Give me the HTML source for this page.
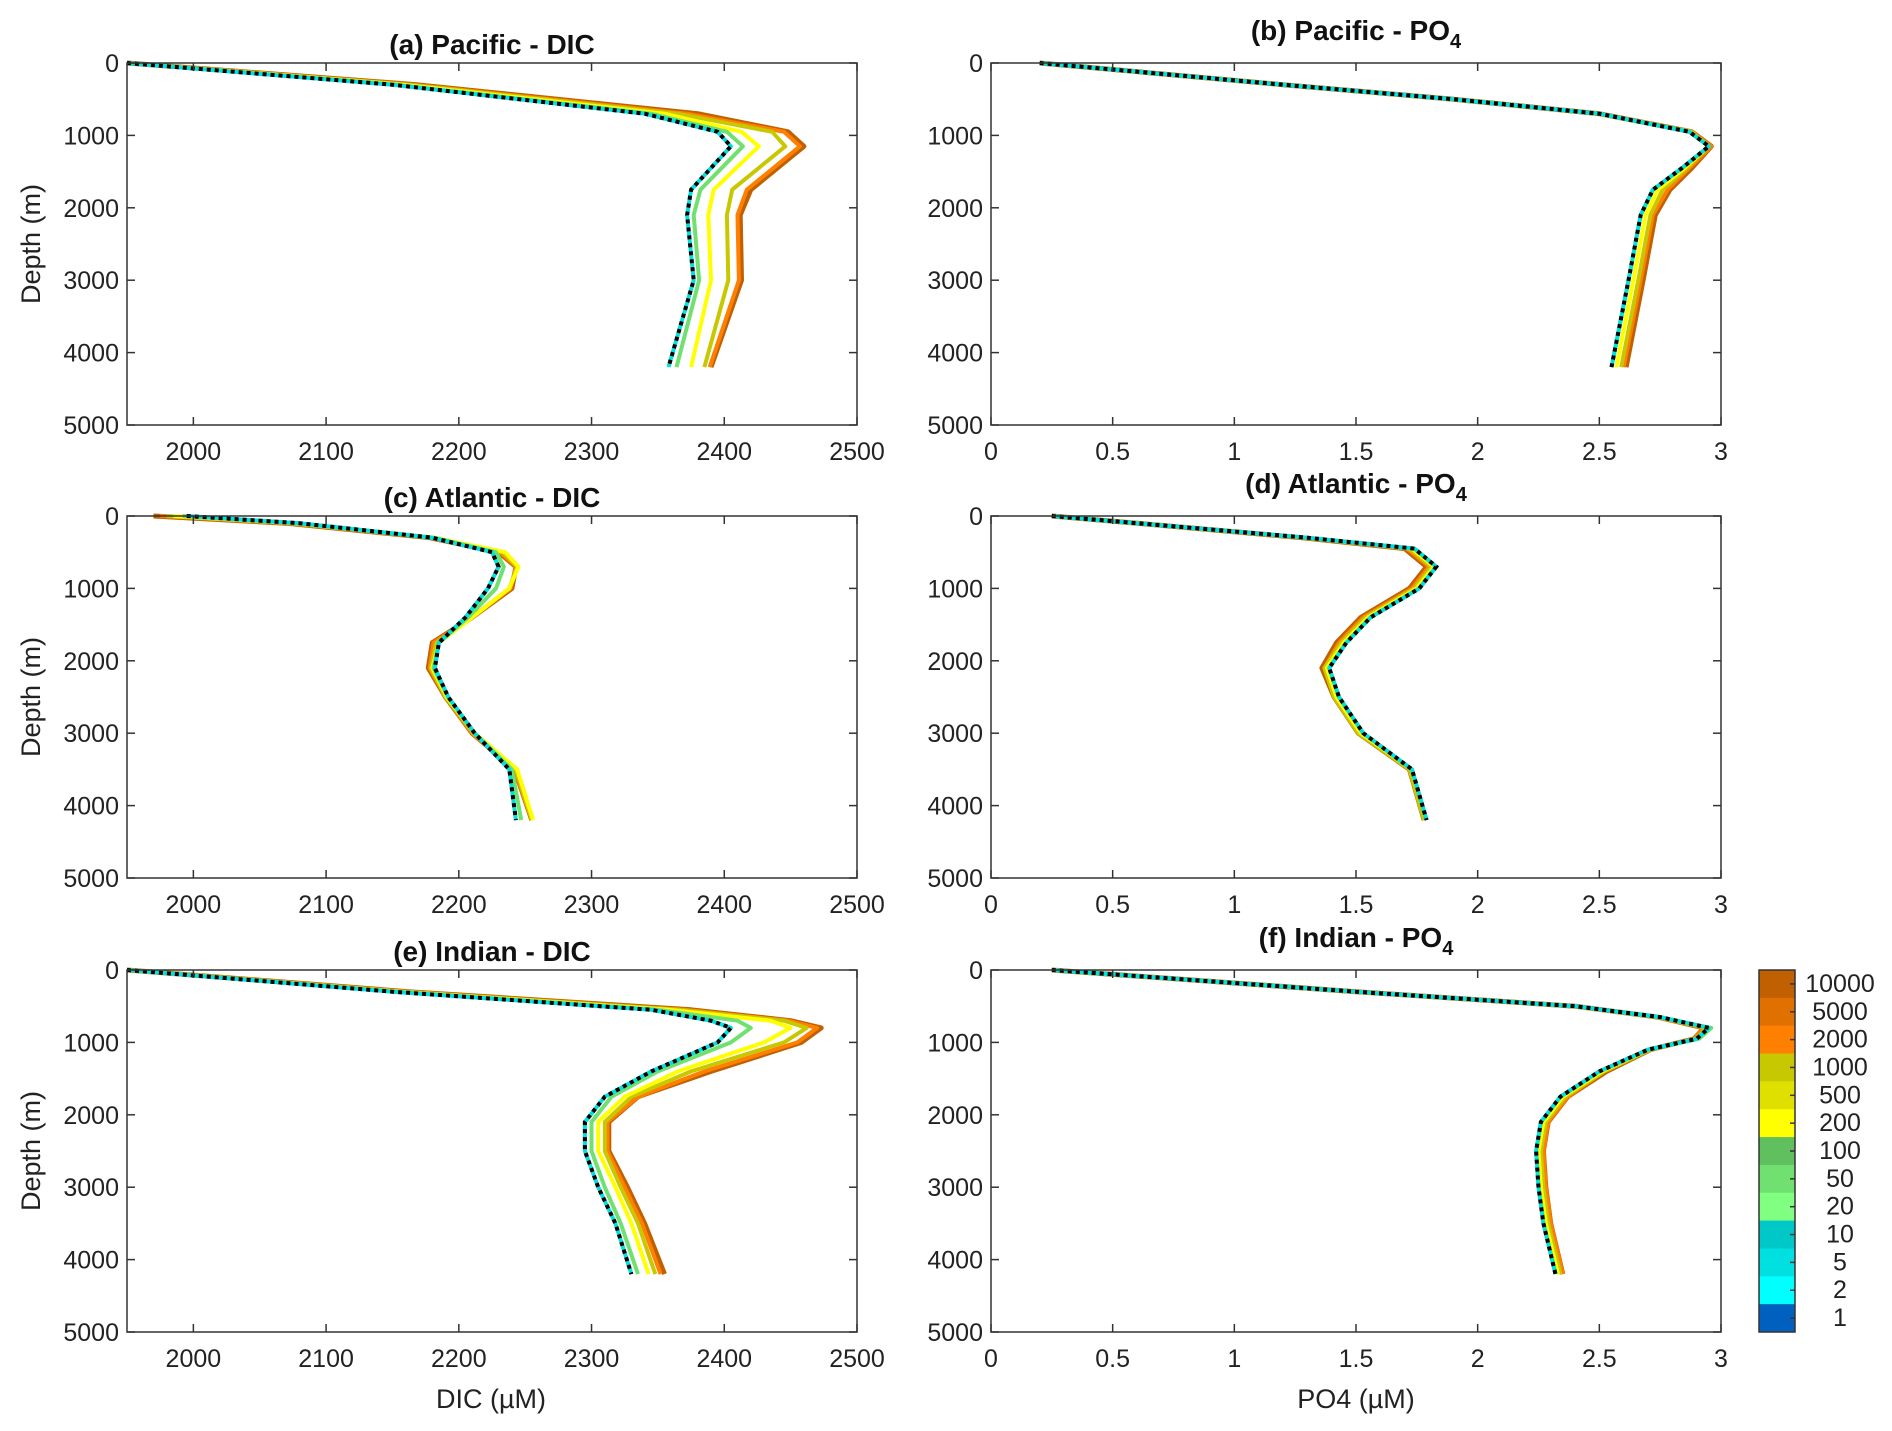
<!DOCTYPE html>
<html><head><meta charset="utf-8"><style>
html,body{margin:0;padding:0;background:#fff;}
svg{display:block;font-family:"Liberation Sans",sans-serif;}
</style></head><body>
<svg id="fig" width="1892" height="1431" viewBox="0 0 1892 1431"></svg>
<script>
// ---- data ----
const seriesKeys = ["10000","2000","1000","200","50","1"];
const seriesColors = {"1":"#00e0e0","50":"#70e070","200":"#ffff00","1000":"#c8c800","2000":"#ff8000","10000":"#c06000"};
const cbLabels = ["10000","5000","2000","1000","500","200","100","50","20","10","5","2","1"];
const cbColors = ["#c06000","#e07000","#ff8000","#c8c800","#e0e000","#ffff00","#60c060","#70e070","#80ff80","#00c8c8","#00e0e0","#00ffff","#0060c0"];
const dicTicks = [2000,2100,2200,2300,2400,2500];
const po4Ticks = [0,0.5,1,1.5,2,2.5,3];
const depthTicks = [0,1000,2000,3000,4000,5000];

const pacDicDepth = [0,300,700,950,1150,1750,2100,3000,4200];
const pacDic1     = [1950,2150,2340,2395,2405,2375,2372,2377,2358];
const pacDic50    = [1950,2152,2345,2402,2414,2382,2377,2381,2364];
const pacDic200   = [1950,2157,2355,2413,2426,2392,2388,2390,2375];
const pacDic1000  = [1950,2162,2365,2436,2446,2406,2402,2403,2385];
const pacDic2000  = [1950,2165,2372,2445,2457,2417,2410,2411,2389];
const pacDic10000 = [1950,2168,2380,2448,2460,2420,2412,2413,2390];

const atlDicDepth = [0,100,300,500,700,1000,1400,1750,2100,2500,3000,3500,4200];
const atlDic1     = [1995,2080,2180,2225,2230,2222,2205,2185,2182,2192,2212,2238,2243];
const atlDic50    = [1992,2079,2181,2228,2234,2228,2207,2185,2181,2192,2212,2240,2247];
const atlDic200   = [1985,2078,2182,2235,2245,2238,2210,2185,2180,2191,2212,2244,2256];
const atlDic1000  = [1980,2075,2180,2233,2244,2238,2210,2183,2179,2190,2211,2243,2255];
const atlDic2000  = [1975,2072,2179,2231,2243,2239,2210,2181,2178,2190,2210,2242,2255];
const atlDic10000 = [1970,2070,2178,2230,2243,2240,2210,2180,2177,2190,2210,2242,2255];

const indDicDepth = [0,300,550,700,800,1000,1400,1750,2100,2500,3000,3500,4200];
const indDic1     = [1950,2150,2345,2390,2405,2395,2345,2310,2295,2295,2305,2318,2330];
const indDic50    = [1950,2152,2350,2410,2420,2405,2350,2315,2300,2300,2310,2322,2335];
const indDic200   = [1950,2155,2358,2435,2450,2430,2365,2325,2305,2305,2318,2330,2343];
const indDic1000  = [1950,2158,2365,2445,2462,2445,2375,2330,2310,2310,2322,2335,2348];
const indDic2000  = [1950,2160,2370,2448,2470,2455,2385,2335,2312,2312,2325,2338,2352];
const indDic10000 = [1950,2162,2375,2450,2473,2458,2390,2335,2313,2313,2327,2340,2355];

const pacPo4Depth = [0,300,500,700,950,1150,1450,1750,2100,3000,4200];
const pacPo41     = [0.2,1.2,1.9,2.5,2.87,2.95,2.84,2.72,2.67,2.62,2.55];
const pacPo450    = [0.2,1.2,1.9,2.5,2.87,2.95,2.84,2.72,2.67,2.62,2.55];
const pacPo4200   = [0.2,1.2,1.9,2.5,2.87,2.95,2.85,2.74,2.69,2.64,2.57];
const pacPo41000  = [0.2,1.2,1.9,2.5,2.88,2.95,2.86,2.76,2.71,2.66,2.59];
const pacPo42000  = [0.2,1.2,1.9,2.5,2.88,2.96,2.87,2.78,2.72,2.67,2.6];
const pacPo410000 = [0.2,1.2,1.9,2.5,2.88,2.96,2.88,2.79,2.73,2.68,2.61];

const atlPo4Depth = [0,100,300,450,700,1000,1400,1750,2100,2500,3000,3500,4200];
const atlPo41     = [0.25,0.6,1.3,1.74,1.83,1.76,1.56,1.46,1.39,1.43,1.53,1.73,1.79];
const atlPo450    = [0.25,0.6,1.3,1.74,1.83,1.76,1.56,1.46,1.39,1.43,1.53,1.73,1.79];
const atlPo4200   = [0.25,0.6,1.3,1.73,1.82,1.75,1.55,1.45,1.38,1.42,1.52,1.73,1.79];
const atlPo41000  = [0.25,0.6,1.29,1.72,1.81,1.74,1.54,1.44,1.37,1.41,1.51,1.72,1.78];
const atlPo42000  = [0.25,0.6,1.29,1.71,1.8,1.73,1.53,1.43,1.37,1.41,1.51,1.72,1.78];
const atlPo410000 = [0.25,0.6,1.28,1.7,1.79,1.72,1.52,1.42,1.36,1.41,1.51,1.72,1.78];

const indPo4Depth = [0,300,500,650,800,950,1100,1400,1750,2100,2500,3000,3500,4200];
const indPo41     = [0.25,1.5,2.4,2.75,2.95,2.9,2.7,2.5,2.34,2.26,2.24,2.25,2.27,2.32];
const indPo450    = [0.25,1.5,2.4,2.75,2.96,2.91,2.7,2.5,2.34,2.26,2.24,2.25,2.27,2.32];
const indPo4200   = [0.25,1.5,2.4,2.75,2.95,2.9,2.7,2.51,2.35,2.27,2.25,2.26,2.28,2.33];
const indPo41000  = [0.25,1.5,2.4,2.74,2.94,2.9,2.71,2.52,2.36,2.28,2.26,2.27,2.29,2.34];
const indPo42000  = [0.25,1.5,2.4,2.74,2.93,2.89,2.71,2.52,2.37,2.29,2.27,2.28,2.3,2.35];
const indPo410000 = [0.25,1.5,2.4,2.74,2.93,2.89,2.71,2.53,2.37,2.29,2.27,2.28,2.3,2.35];

// ---- drawing ----
const NS="http://www.w3.org/2000/svg";
const svg=document.getElementById('fig');
function el(tag,attrs,parent){const e=document.createElementNS(NS,tag);for(const k in attrs)e.setAttribute(k,attrs[k]);(parent||svg).appendChild(e);return e;}

const panels=[
 {id:"a",title:"(a) Pacific - DIC",po:false,x0:127,y0:63,depth:pacDicDepth,s:{"1":pacDic1,"50":pacDic50,"200":pacDic200,"1000":pacDic1000,"2000":pacDic2000,"10000":pacDic10000},ty:54},
 {id:"b",title:"(b) Pacific - PO",po:true,x0:991,y0:63,depth:pacPo4Depth,s:{"1":pacPo41,"50":pacPo450,"200":pacPo4200,"1000":pacPo41000,"2000":pacPo42000,"10000":pacPo410000},ty:40},
 {id:"c",title:"(c) Atlantic - DIC",po:false,x0:127,y0:516,depth:atlDicDepth,s:{"1":atlDic1,"50":atlDic50,"200":atlDic200,"1000":atlDic1000,"2000":atlDic2000,"10000":atlDic10000},ty:507},
 {id:"d",title:"(d) Atlantic - PO",po:true,x0:991,y0:516,depth:atlPo4Depth,s:{"1":atlPo41,"50":atlPo450,"200":atlPo4200,"1000":atlPo41000,"2000":atlPo42000,"10000":atlPo410000},ty:493},
 {id:"e",title:"(e) Indian - DIC",po:false,x0:127,y0:970,depth:indDicDepth,s:{"1":indDic1,"50":indDic50,"200":indDic200,"1000":indDic1000,"2000":indDic2000,"10000":indDic10000},ty:961},
 {id:"f",title:"(f) Indian - PO",po:true,x0:991,y0:970,depth:indPo4Depth,s:{"1":indPo41,"50":indPo450,"200":indPo4200,"1000":indPo41000,"2000":indPo42000,"10000":indPo410000},ty:947}
];
const W=730,H=362;
panels.forEach(p=>{
  const g=el('g',{});
  
  
  const xmin=p.po?0:1950, xmax=p.po?3:2500;
  const xs=v=>p.x0+(v-xmin)/(xmax-xmin)*W;
  const ys=d=>p.y0+d/5000*H;
  seriesKeys.forEach(k=>{
    const pts=p.s[k].map((v,i)=>xs(v).toFixed(1)+','+ys(p.depth[i]).toFixed(1)).join(' ');
    const l=el('polyline',{points:pts,fill:'none',stroke:seriesColors[k],'stroke-width':k==="10000"?5:4,'stroke-linejoin':'round'},g);
    
    
  });
  const pts1=p.s["1"].map((v,i)=>xs(v).toFixed(1)+','+ys(p.depth[i]).toFixed(1)).join(' ');
  const d=el('polyline',{points:pts1,fill:'none',stroke:'#000','stroke-width':4,'stroke-dasharray':'4 4'},g);
  
  
  const b=el('rect',{x:p.x0,y:p.y0,width:W,height:H,fill:'none',stroke:'#333','stroke-width':1.5},g);
  
  
  const xt=p.po?po4Ticks:dicTicks;
  xt.forEach(t=>{
    const x=xs(t);
    el('line',{x1:x,y1:p.y0+H,x2:x,y2:p.y0+H-8,stroke:'#333','stroke-width':1.5},g);
    el('line',{x1:x,y1:p.y0,x2:x,y2:p.y0+8,stroke:'#333','stroke-width':1.5},g);
    const tx=el('text',{x:x,y:p.y0+H+35,'font-size':25,'text-anchor':'middle',fill:'#222'},g);
    tx.textContent=String(t);
    
    
  });
  depthTicks.forEach(t=>{
    const y=ys(t);
    el('line',{x1:p.x0,y1:y,x2:p.x0+8,y2:y,stroke:'#333','stroke-width':1.5},g);
    el('line',{x1:p.x0+W,y1:y,x2:p.x0+W-8,y2:y,stroke:'#333','stroke-width':1.5},g);
    const tx=el('text',{x:p.x0-8,y:y+9,'font-size':25,'text-anchor':'end',fill:'#222'},g);
    tx.textContent=String(t);
    
    
  });
  const ti=el('text',{x:p.x0+W/2,y:p.ty,'font-size':28,'font-weight':'bold','text-anchor':'middle',fill:'#111'},g);
  ti.textContent=p.title;
  if(p.po){const s=el('tspan',{'font-size':20,dy:8},ti);s.textContent='4';}
  
  
  if(!p.po){
    const yl=el('text',{x:0,y:0,'font-size':27,'text-anchor':'middle',fill:'#222',transform:`translate(40,${p.y0+H/2}) rotate(-90)`},g);
    yl.textContent='Depth (m)';
    
    
  }
});
const xl1=el('text',{x:491,y:1408,'font-size':27,'text-anchor':'middle',fill:'#222'});
xl1.textContent='DIC (µM)';


const xl2=el('text',{x:1356,y:1408,'font-size':27,'text-anchor':'middle',fill:'#222'});
xl2.textContent='PO4 (µM)';


const cb=el('g',{});


const cbx=1759,cby=970,cbw=36,cbh=362,seg=cbh/cbLabels.length;
cbLabels.forEach((lab,i)=>{
  const r=el('rect',{x:cbx,y:cby+i*seg,width:cbw,height:seg+0.5,fill:cbColors[i]},cb);
  
  
  el('line',{x1:cbx+cbw,y1:cby+(i+0.5)*seg,x2:cbx+cbw-5,y2:cby+(i+0.5)*seg,stroke:'#333','stroke-width':1.5},cb);
  const t=el('text',{x:1840,y:cby+(i+0.5)*seg+8,'font-size':25,'text-anchor':'middle',fill:'#222'},cb);
  t.textContent=lab;
  
  
});
el('rect',{x:cbx,y:cby,width:cbw,height:cbh,fill:'none',stroke:'#333','stroke-width':1.5},cb);
</script>
</body></html>
